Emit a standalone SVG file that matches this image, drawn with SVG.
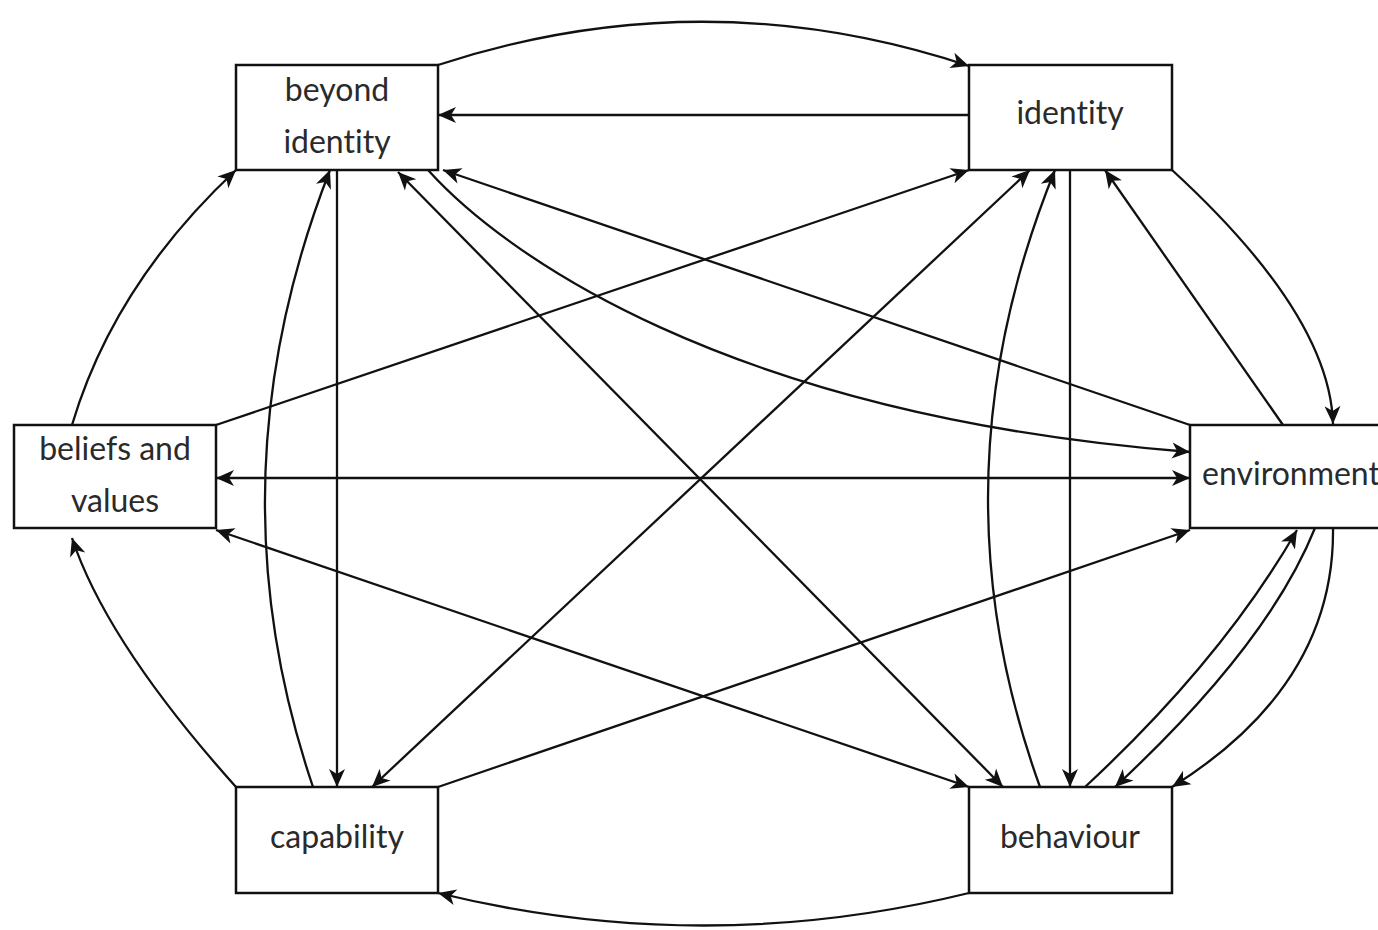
<svg xmlns="http://www.w3.org/2000/svg" width="1378" height="930" viewBox="0 0 1378 930">
<style>
.box{fill:#fff;stroke:#111;stroke-width:2.5}
.lbl{font-family:Lato,"Open Sans","Liberation Sans",sans-serif;font-size:32px;fill:#2a2a2a;text-anchor:middle;font-variant-ligatures:none;font-feature-settings:"liga" 0,"clig" 0}
.c{fill:none;stroke:#111;stroke-width:2.3}
.e{marker-end:url(#ah)}
.b{marker-start:url(#ah);marker-end:url(#ah)}
</style>
<defs>
<marker id="ah" markerUnits="userSpaceOnUse" viewBox="-19 -9 20 18" refX="0" refY="0" markerWidth="20" markerHeight="18" orient="auto-start-reverse">
<path d="M0,0 L-18,-8 L-13,0 L-18,8 Z" fill="#111"/>
</marker>
</defs>
<rect width="1378" height="930" fill="#fff"/>
<g id="node-beyond-identity"><rect class="box" x="236" y="65" width="202" height="105"/><text class="lbl" x="337" y="101">beyond</text><text class="lbl" x="337" y="153">identity</text></g>
<g id="node-identity"><rect class="box" x="969" y="65" width="203" height="105"/><text class="lbl" x="1070" y="124">identity</text></g>
<g id="node-beliefs"><rect class="box" x="14" y="425" width="202" height="103"/><text class="lbl" x="115" y="460">beliefs and</text><text class="lbl" x="115" y="512">values</text></g>
<g id="node-environment"><rect class="box" x="1190" y="425" width="202" height="103"/><text class="lbl" x="1291" y="485">environment</text></g>
<g id="node-capability"><rect class="box" x="236" y="787" width="202" height="106"/><text class="lbl" x="337" y="848">capability</text></g>
<g id="node-behaviour"><rect class="box" x="969" y="787" width="203" height="106"/><text class="lbl" x="1070" y="848">behaviour</text></g>
<g id="connectors">
<path class="c e" d="M438,65 Q704,-22 969,66"/>
<path class="c e" d="M969,115 L438,115"/>
<path class="c e" d="M72,425 Q114,284 236,170"/>
<path class="c e" d="M313,787 Q209,480 330,170"/>
<path class="c e" d="M337,170 L337,787"/>
<path class="c b" d="M398,172 L1003,787"/>
<path class="c e" d="M428,170 C500,250 720,415 1190,452"/>
<path class="c e" d="M1190,425 L443,170"/>
<path class="c e" d="M216,425 L969,170"/>
<path class="c b" d="M372,787 L1030,170"/>
<path class="c e" d="M1040,787 Q929,480 1055,170"/>
<path class="c e" d="M1070,170 L1070,787"/>
<path class="c e" d="M1283,425 L1105,170"/>
<path class="c e" d="M1172,170 Q1330,315 1333,424"/>
<path class="c b" d="M216,478 L1190,478"/>
<path class="c b" d="M216,530 L969,787"/>
<path class="c e" d="M438,787 L1190,530"/>
<path class="c e" d="M236,787 Q107,643 72,538"/>
<path class="c e" d="M969,893 Q704,958 438,893"/>
<path class="c e" d="M1085,787 Q1222,660 1297,530"/>
<path class="c e" d="M1315,528 Q1268,645 1115,787"/>
<path class="c e" d="M1333,528 Q1335,685 1172,787"/>
</g>
</svg>
